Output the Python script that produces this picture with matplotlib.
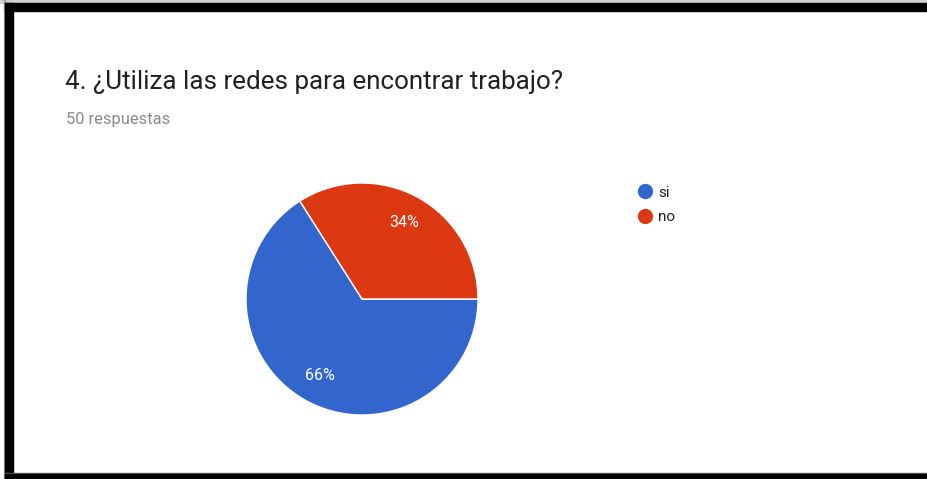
import matplotlib.pyplot as plt
from matplotlib.lines import Line2D
from matplotlib.patches import Rectangle

# Datos de la encuesta
respuestas = ['si', 'no']
porcentajes = [66, 34]
colores = ['#3366cc', '#dc3912']

titulo = '4. ¿Utiliza las redes para encontrar trabajo?'
subtitulo = '50 respuestas'

W, H = 928, 479
plt.rcParams['font.family'] = ['Roboto', 'DejaVu Sans']

fig = plt.figure(figsize=(W / 100, H / 100), dpi=100)
fig.patch.set_facecolor('white')

# Marco negro (izquierda, arriba y abajo)
def rect_px(x, y, w, h, color):
    fig.patches.append(Rectangle((x / W, 1 - (y + h) / H), w / W, h / H,
                                 transform=fig.transFigure, color=color, zorder=0))

rect_px(0, 0, W, 3, '#d0d0d0')
rect_px(4, 0, 1, H, '#a0a0a0')
rect_px(5, 3, W - 5, 8, 'black')
rect_px(5, 3, 8, H - 3, 'black')
rect_px(5, 473, W - 5, 1, '#606060')
rect_px(5, 474, W - 5, 5, 'black')

# Titulo y numero de respuestas
fig.text(65 / W, 1 - 89 / H, titulo, fontsize=18.7, color='#212121',
         ha='left', va='baseline')
fig.text(66 / W, 1 - 124 / H, subtitulo, fontsize=11.9, color='#8a8a8a',
         ha='left', va='baseline')

# Grafico circular
cx, cy, r = 362, 299, 116
ax = fig.add_axes([(cx - r) / W, 1 - (cy + r) / H, 2 * r / W, 2 * r / H])
ax.pie(porcentajes, colors=colores, startangle=0, counterclock=False,
       autopct='%d%%', pctdistance=0.75,
       wedgeprops=dict(edgecolor='white', linewidth=1),
       textprops=dict(color='white', fontsize=11.5))
ax.set_xlim(-1, 1)
ax.set_ylim(-1, 1)
ax.set_aspect('auto')
ax.axis('off')

# Leyenda
handles = [Line2D([], [], marker='o', linestyle='', markersize=10,
                  markerfacecolor=c, markeredgecolor=c) for c in colores]
fig.legend(handles, respuestas, loc='upper left',
           bbox_to_anchor=(620 / W, 1 - 172 / H), frameon=False,
           fontsize=11, handletextpad=0.1, labelspacing=0.7,
           handlelength=1.5, labelcolor='#212121')

fig.savefig('out.png', dpi=100)
